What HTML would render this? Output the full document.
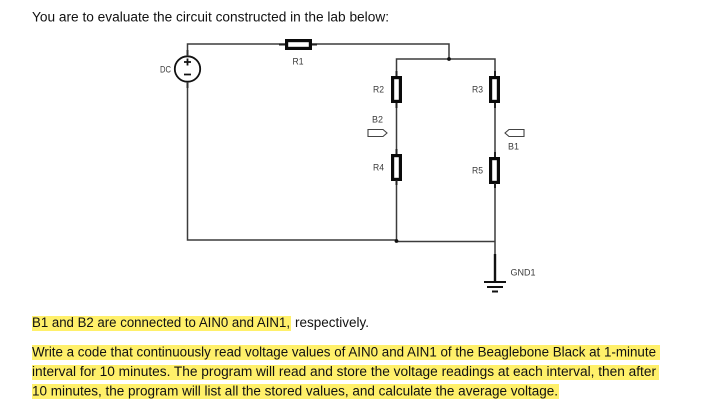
<!DOCTYPE html>
<html><head><meta charset="utf-8"><style>
html,body{margin:0;padding:0;background:#fff}
svg{display:block}
text{font-family:"Liberation Sans",sans-serif}
.b{font-size:14.2px;fill:#111}
.l{font-size:9px;fill:#3a3a3a}
</style></head><body>
<svg width="710" height="407" viewBox="0 0 710 407" xmlns="http://www.w3.org/2000/svg">
<rect width="710" height="407" fill="#fff"/>
<text class="b" x="32" y="21.500" textLength="357" lengthAdjust="spacingAndGlyphs">You are to evaluate the circuit constructed in the lab below:</text>

<g fill="none" stroke="#3c3c3c" stroke-width="1.5">
<path d="M187.500 56V44H449V59M396.500 76V59H495V76"/>
<path d="M187.500 82V240H396.500"/>
<path d="M396.500 103V154M396.500 180V241.500H495M495 103V157M495 183V254"/>
</g>
<circle cx="449" cy="59" r="1.9" fill="#111"/>
<circle cx="396.500" cy="241" r="1.9" fill="#111"/>

<circle cx="187.500" cy="69" r="12.700" fill="#fff" stroke="#111" stroke-width="1.800"/>
<path d="M184 62H191M187.500 58.500V65.500M184 74.500H191" stroke="#111" stroke-width="1.800" fill="none"/>
<path d="M187.500 50V56M187.500 82V88" stroke="#333" stroke-width="2"/>

<g fill="#fff" stroke="#0a0a0a" stroke-width="3.200">
<rect x="286.600" y="40.600" width="23.800" height="7.800"/>
<rect x="392.600" y="77.600" width="7.800" height="23.800"/>
<rect x="490.600" y="77.600" width="7.800" height="23.800"/>
<rect x="392.600" y="155.600" width="7.800" height="23.800"/>
<rect x="490.600" y="158.600" width="7.800" height="23.800"/>
</g>
<path d="M279 44.500H285M312 44.500H317M396.500 71V76M396.500 103V108M495 71V76M495 103V108M396.500 149V154M396.500 180V185M495 152V157M495 183V188" stroke="#222" stroke-width="2"/>

<path d="M368 129.500H383L387 133L383 136.500H368Z" fill="#fff" stroke="#444" stroke-width="1.100"/>
<path d="M524 129.500H509L505 133L509 136.500H524Z" fill="#fff" stroke="#444" stroke-width="1.100"/>

<path d="M495 254V282" stroke="#111" stroke-width="2.400"/>
<path d="M484 282H506M487 287H503M492 291.500H498" stroke="#111" stroke-width="2"/>

<text class="l" x="160" y="72.500" textLength="11" lengthAdjust="spacingAndGlyphs">DC</text>
<text class="l" x="292.500" y="64.500" textLength="11" lengthAdjust="spacingAndGlyphs">R1</text>
<text class="l" x="373" y="92.500" textLength="11" lengthAdjust="spacingAndGlyphs">R2</text>
<text class="l" x="472" y="92.500" textLength="11" lengthAdjust="spacingAndGlyphs">R3</text>
<text class="l" x="372" y="122.500" textLength="11" lengthAdjust="spacingAndGlyphs">B2</text>
<text class="l" x="508" y="149.500" textLength="11" lengthAdjust="spacingAndGlyphs">B1</text>
<text class="l" x="373" y="170.500" textLength="11" lengthAdjust="spacingAndGlyphs">R4</text>
<text class="l" x="472" y="173.500" textLength="11" lengthAdjust="spacingAndGlyphs">R5</text>
<text class="l" x="510.500" y="275.500" textLength="25" lengthAdjust="spacingAndGlyphs">GND1</text>

<g fill="#fff06a">
<rect x="32" y="316" width="259" height="15"/>
<rect x="32" y="345" width="628" height="15"/>
<rect x="32" y="365" width="627" height="15"/>
<rect x="32" y="384" width="527" height="15"/>
</g>
<text class="b" x="32" y="327" textLength="258" lengthAdjust="spacingAndGlyphs">B1 and B2 are connected to AIN0 and AIN1,</text>
<text class="b" x="295" y="327" textLength="74" lengthAdjust="spacingAndGlyphs" fill="#222">respectively.</text>
<text class="b" x="32" y="356.500" textLength="624" lengthAdjust="spacingAndGlyphs">Write a code that continuously read voltage values of AIN0 and AIN1 of the Beaglebone Black at 1-minute</text>
<text class="b" x="32" y="376" textLength="624" lengthAdjust="spacingAndGlyphs">interval for 10 minutes. The program will read and store the voltage readings at each interval, then after</text>
<text class="b" x="32" y="395.500" textLength="526" lengthAdjust="spacingAndGlyphs">10 minutes, the program will list all the stored values, and calculate the average voltage.</text>
</svg>
</body></html>
